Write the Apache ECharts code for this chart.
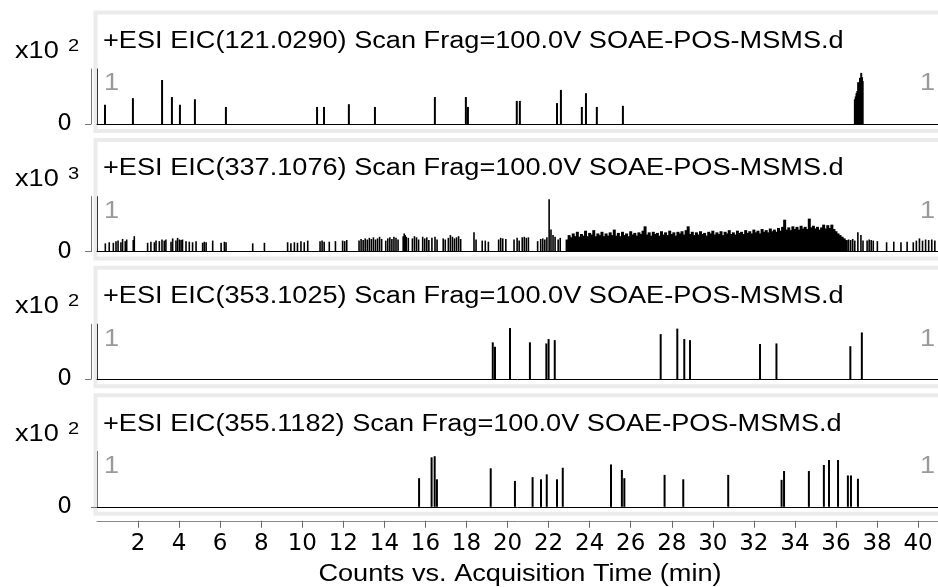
<!DOCTYPE html>
<html>
<head>
<meta charset="utf-8">
<script src="https://cdn.jsdelivr.net/npm/echarts@6/dist/echarts.min.js"></script>
<style>
html,body{margin:0;padding:0;background:#fff;}
#chart{width:938px;height:587px;}
</style>
</head>
<body>
<div id="chart"></div>
<script>
// ---------- DATA ----------
const panelTitles = [
  '+ESI EIC(121.0290) Scan Frag=100.0V SOAE-POS-MSMS.d',
  '+ESI EIC(337.1076) Scan Frag=100.0V SOAE-POS-MSMS.d',
  '+ESI EIC(353.1025) Scan Frag=100.0V SOAE-POS-MSMS.d',
  '+ESI EIC(355.1182) Scan Frag=100.0V SOAE-POS-MSMS.d'
];
const exponents = ['2', '3', '2', '2'];
const segmentLabel = '1';
const xTicks = [2,4,6,8,10,12,14,16,18,20,22,24,26,28,30,32,34,36,38,40];
const xAxisName = 'Counts vs. Acquisition Time (min)';

// Panel 1: EIC 121.0290 (x10^2 counts)
const p1Times  = [0.39,1.75,3.17,3.65,4.04,4.77,6.28,10.72,11.06,12.27,13.54,16.46,17.97,18.07,20.45,20.6,22.41,22.6,23.62,23.82,24.35,25.62,
                  36.92,36.96,37.0,37.04,37.08,37.12,37.17,37.2,37.23,37.27,37.3];
const p1Values = [0.35,0.47,0.80,0.49,0.35,0.45,0.31,0.31,0.31,0.36,0.31,0.49,0.49,0.31,0.42,0.42,0.38,0.62,0.31,0.56,0.31,0.33,
                  0.45,0.50,0.56,0.60,0.76,0.70,0.84,0.80,0.93,0.85,0.78];

// Panel 2: EIC 337.1076 (x10^3 counts) - isolated scans
const p2BarTimes = [0.44,0.63,0.83,0.96,1.06,1.2,1.28,1.41,1.48,1.8,1.85,2.5,2.66,2.83,2.91,3.07,3.2,3.31,3.39,3.64,3.72,3.88,3.96,4.05,4.13,4.2,4.37,4.53,4.69,4.86,
  5.18,5.26,5.35,5.67,6.08,6.24,6.32,7.62,8.19,9.32,9.48,9.65,9.8,9.97,10.13,10.3,
  10.9,11.0,11.1,11.35,11.65,12.0,12.1,12.2,
  12.8,12.9,13.0,13.1,13.2,13.3,13.4,13.5,13.6,13.7,13.8,13.9,
  14.1,14.2,14.3,14.4,14.5,14.6,14.7,14.95,15.0,15.05,15.1,15.2,15.4,15.5,15.6,15.7,
  15.9,16.0,16.1,16.2,16.35,16.5,16.6,16.9,17.0,17.15,17.25,17.35,17.45,17.55,17.65,17.75,
  18.4,18.5,18.8,18.95,19.1,19.6,19.7,19.8,19.95,20.35,20.5,20.6,20.75,20.85,20.95,21.05,
  21.5,21.65,21.75,21.85,21.95,22.06,22.15,22.25,22.35,22.5,22.6,
  36.55,36.65,36.75,36.85,36.95,37.1,37.25,37.35,37.55,37.65,37.75,37.85,38.05,38.5,38.85,39.2,39.5,39.8,39.95,40.1,40.25,40.4,40.55,40.7,40.85];
const p2BarValues = [0.15,0.17,0.16,0.19,0.20,0.17,0.23,0.19,0.22,0.21,0.28,0.16,0.18,0.17,0.20,0.19,0.22,0.20,0.22,0.18,0.24,0.20,0.25,0.22,0.21,0.22,0.19,0.18,0.17,0.19,
  0.16,0.18,0.17,0.20,0.16,0.18,0.17,0.15,0.16,0.17,0.15,0.17,0.16,0.19,0.17,0.20,
  0.19,0.20,0.18,0.18,0.19,0.20,0.19,0.21,
  0.20,0.23,0.21,0.24,0.22,0.25,0.23,0.26,0.22,0.24,0.27,0.23,
  0.20,0.24,0.26,0.23,0.27,0.25,0.22,0.28,0.33,0.30,0.27,0.25,0.24,0.28,0.26,0.22,
  0.27,0.24,0.26,0.21,0.25,0.27,0.22,0.24,0.22,0.25,0.30,0.27,0.24,0.26,0.28,0.23,
  0.35,0.22,0.20,0.20,0.18,0.22,0.25,0.24,0.23,0.22,0.25,0.20,0.26,0.27,0.25,0.26,
  0.19,0.23,0.24,0.22,0.26,0.95,0.40,0.30,0.27,0.22,0.25,
  0.20,0.22,0.21,0.23,0.20,0.35,0.30,0.20,0.20,0.22,0.21,0.20,0.19,0.17,0.18,0.17,0.18,0.17,0.20,0.24,0.20,0.22,0.21,0.22,0.20];
// Panel 2: dense region of consecutive scans
const p2DenseTimes = [22.9,23.0,23.1,23.2,23.3,23.4,23.5,23.6,23.7,23.8,23.9,24.0,24.1,24.2,24.3,24.4,24.5,24.6,24.7,24.8,24.9,
  25.0,25.1,25.2,25.3,25.4,25.5,25.6,25.7,25.8,25.9,26.0,26.1,26.2,26.3,26.4,26.5,26.6,26.7,26.8,26.9,
  27.0,27.1,27.2,27.3,27.4,27.5,27.6,27.7,27.8,27.9,28.0,28.1,28.2,28.3,28.4,28.5,28.6,28.7,28.8,28.9,
  29.0,29.1,29.2,29.3,29.4,29.5,29.6,29.7,29.8,29.9,30.0,30.1,30.2,30.3,30.4,30.5,30.6,30.7,30.8,30.9,
  31.0,31.1,31.2,31.3,31.4,31.5,31.6,31.7,31.8,31.9,32.0,32.1,32.2,32.3,32.4,32.5,32.6,32.7,32.8,32.9,
  33.0,33.1,33.2,33.3,33.4,33.5,33.6,33.7,33.8,33.9,34.0,34.1,34.2,34.3,34.4,34.5,34.6,34.7,34.8,34.9,
  35.0,35.1,35.2,35.3,35.4,35.5,35.6,35.7,35.8,35.9,36.0,36.1,36.2,36.3,36.4,36.5];
const p2DenseValues = [0.22,0.30,0.26,0.33,0.28,0.36,0.27,0.32,0.29,0.38,0.28,0.34,0.31,0.39,0.28,0.33,0.30,0.36,0.28,0.33,0.29,
  0.35,0.30,0.40,0.29,0.34,0.28,0.36,0.30,0.33,0.28,0.37,0.31,0.34,0.29,0.35,0.32,0.38,0.46,0.31,0.35,
  0.29,0.36,0.32,0.34,0.29,0.37,0.31,0.35,0.30,0.38,0.32,0.35,0.29,0.36,0.33,0.37,0.31,0.39,0.46,0.32,
  0.36,0.30,0.35,0.31,0.37,0.32,0.34,0.29,0.36,0.33,0.38,0.31,0.35,0.32,0.37,0.30,0.36,0.33,0.39,0.32,
  0.35,0.31,0.38,0.34,0.36,0.32,0.39,0.34,0.37,0.33,0.40,0.35,0.38,0.33,0.41,0.36,0.39,0.35,0.42,0.37,
  0.40,0.36,0.43,0.38,0.45,0.58,0.40,0.44,0.39,0.46,0.41,0.45,0.40,0.47,0.42,0.45,0.41,0.60,0.44,0.47,
  0.42,0.45,0.40,0.44,0.49,0.42,0.48,0.43,0.49,0.41,0.37,0.33,0.30,0.27,0.24,0.21];

// Panel 3: EIC 353.1025 (x10^2 counts)
const p3Times  = [19.28,19.39,20.12,21.09,21.89,22.0,22.3,27.46,28.27,28.61,28.89,32.3,33.1,36.7,37.26];
const p3Values = [0.67,0.59,0.93,0.67,0.65,0.73,0.71,0.82,0.92,0.73,0.71,0.64,0.65,0.60,0.85];

// Panel 4: EIC 355.1182 (x10^2 counts)
const p4Times  = [15.69,16.3,16.45,16.56,19.18,20.36,21.22,21.63,21.91,22.41,22.69,25.04,25.57,25.69,27.65,28.56,30.75,33.35,33.47,
                  34.68,35.41,35.66,36.1,36.58,36.73,37.07];
const p4Values = [0.52,0.90,0.92,0.50,0.70,0.47,0.54,0.50,0.59,0.50,0.71,0.77,0.67,0.52,0.58,0.50,0.58,0.49,0.65,
                  0.65,0.76,0.85,0.85,0.57,0.57,0.51];

// ---------- LAYOUT ----------
const FONT = '"Liberation Sans", Arial, sans-serif';
const NUMFONT = '"DejaVu Sans", sans-serif';
const STRETCH = 1.18;
const baselines = [124, 251.6, 379.2, 506.8];
const plotH = 55, gridLeft = 97;
const X_MIN = 0, X_MAX = 40.97;

function pairs(t, v) { return t.map((x, i) => [x, v[i]]); }
function label(txt, x, y, size, color, align) {
  return { type: 'text', x: x, y: y, scaleX: STRETCH, silent: true,
    style: { text: txt, font: size + 'px ' + FONT, fill: color, verticalAlign: 'middle', align: align || 'left' } };
}

const grids = [], xAxes = [], yAxes = [], series = [], graphics = [];
baselines.forEach((b, i) => {
  grids.push({ left: gridLeft, right: 0, top: b - plotH, height: plotH });
  xAxes.push({
    type: 'value', gridIndex: i, min: X_MIN, max: X_MAX, position: 'bottom',
    axisLine: { show: true, onZero: false, lineStyle: { color: '#000', width: 1 } },
    axisTick: { show: false }, axisLabel: { show: false }, splitLine: { show: false }
  });
  yAxes.push({
    type: 'value', gridIndex: i, min: 0, max: 1, position: 'left', offset: 0,
    axisLine: { show: true, lineStyle: { color: '#333', width: 1 } },
    axisTick: { show: false }, axisLabel: { show: false }, splitLine: { show: false }
  });
  yAxes.push({
    type: 'value', gridIndex: i, min: 0, max: 1, position: 'left', offset: 6,
    axisLine: { show: true, lineStyle: { color: '#777', width: 1 } },
    axisTick: { show: true, length: 6, customValues: [0], lineStyle: { color: '#777' } },
    axisLabel: { show: true, customValues: [0], margin: 19, fontFamily: NUMFONT, fontSize: 23, color: '#000',
      formatter: v => (v === 0 ? '0' : '') },
    splitLine: { show: false }
  });
  graphics.push({ type: 'rect', shape: { x: 95.5, y: b - 111.5, width: 850, height: 118.5 },
    style: { fill: 'none', stroke: '#ebebeb', lineWidth: 4 }, silent: true });
  graphics.push(label(panelTitles[i], 103, b - 82.5, 23, '#000'));
  graphics.push(label('x10', 15, b - 72.3, 23, '#000'));
  graphics.push(label(exponents[i], 68, b - 77.5, 17, '#000'));
  graphics.push(label(segmentLabel, 104, b - 40, 23, '#9a9a9a'));
  graphics.push(label(segmentLabel, 935, b - 40, 23, '#9a9a9a', 'right'));
});
graphics.push(label(xAxisName, 520, 575, 23, '#000', 'center'));

xAxes.push({
  type: 'value', gridIndex: 3, min: X_MIN, max: X_MAX, position: 'bottom', offset: 14,
  axisLine: { show: true, onZero: false, lineStyle: { color: '#888', width: 1 } },
  axisTick: { show: true, length: 7, customValues: xTicks, lineStyle: { color: '#666' } },
  axisLabel: { show: true, customValues: xTicks, margin: 12, fontFamily: NUMFONT, fontSize: 23, color: '#000' },
  splitLine: { show: false }
});

const barStyle = { type: 'bar', barWidth: 2, itemStyle: { color: '#000' }, silent: true };
series.push(Object.assign({}, barStyle, { xAxisIndex: 0, yAxisIndex: 0, data: pairs(p1Times, p1Values) }));
series.push(Object.assign({}, barStyle, { xAxisIndex: 1, yAxisIndex: 2, barWidth: 1.6, data: pairs(p2BarTimes, p2BarValues) }));
series.push(Object.assign({}, barStyle, { xAxisIndex: 1, yAxisIndex: 2, barWidth: 3, barGap: '-100%', data: pairs(p2DenseTimes, p2DenseValues) }));
series.push(Object.assign({}, barStyle, { xAxisIndex: 2, yAxisIndex: 4, data: pairs(p3Times, p3Values) }));
series.push(Object.assign({}, barStyle, { xAxisIndex: 3, yAxisIndex: 6, data: pairs(p4Times, p4Values) }));

const chart = echarts.init(document.getElementById('chart'), null, { renderer: 'canvas' });
chart.setOption({
  animation: false,
  backgroundColor: '#fff',
  grid: grids, xAxis: xAxes, yAxis: yAxes, series: series,
  graphic: graphics
});
</script>
</body>
</html>
